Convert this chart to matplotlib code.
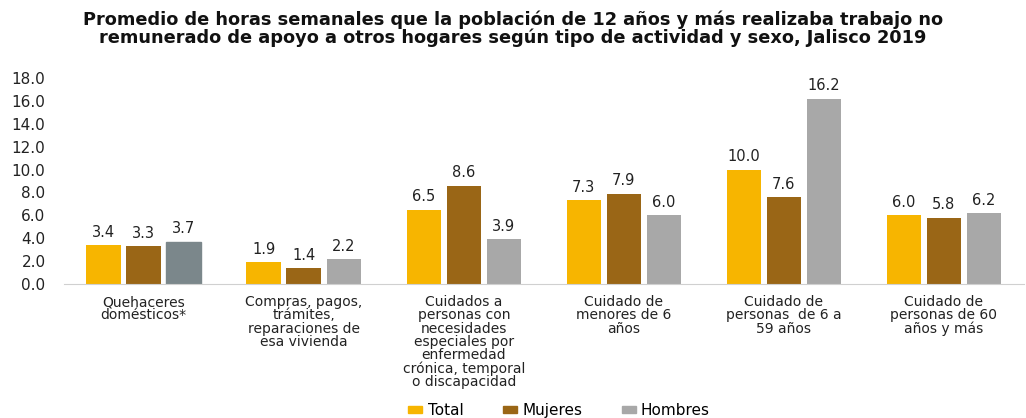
#Average weekly hours of unpaid support work for other households, Jalisco 2019

import numpy as np
import matplotlib.pyplot as plt
from matplotlib.patches import Patch

plt.rcParams['font.family'] = ['DejaVu Sans']

categorias = ['Quehaceres\ndomésticos*',
              'Compras, pagos,\ntrámites,\nreparaciones de\nesa vivienda',
              'Cuidados a\npersonas con\nnecesidades\nespeciales por\nenfermedad\ncrónica, temporal\no discapacidad',
              'Cuidado de\nmenores de 6\naños',
              'Cuidado de\npersonas  de 6 a\n59 años',
              'Cuidado de\npersonas de 60\naños y más']
total = [3.4, 1.9, 6.5, 7.3, 10.0, 6.0]
mujeres = [3.3, 1.4, 8.6, 7.9, 7.6, 5.8]
hombres = [3.7, 2.2, 3.9, 6.0, 16.2, 6.2]
yticks = [0, 2, 4, 6, 8, 10, 12, 14, 16, 18]

c_total, c_muj, c_hom = '#F7B500', '#9A6616', '#A8A8A8'

fig = plt.figure(figsize=(10.26, 4.18), dpi=100)
ax = fig.add_axes([0.062, 0.3206, 0.936, 0.4928])

x = np.arange(len(categorias))
w = 0.215
off = 0.25
b1 = ax.bar(x - off, total, w, color=c_total)
b2 = ax.bar(x, mujeres, w, color=c_muj)
b3 = ax.bar(x + off, hombres, w, color=c_hom)
b3[0].set_color('#7B878B')

for bars in (b1, b2, b3):
    for b in bars:
        ax.text(b.get_x() + b.get_width() / 2, b.get_height() + 0.45,
                f'{b.get_height():.1f}', ha='center', va='bottom',
                fontsize=10.5, color='#222222')

ax.set_ylim(0, 18)
ax.set_xlim(-0.5, len(categorias) - 0.5)
ax.set_yticks(yticks)
ax.set_yticklabels([f'{v:.1f}' for v in yticks], fontsize=11, color='#222222')
ax.set_xticks(x)
ax.set_xticklabels(categorias, fontsize=10, linespacing=0.93, va='top',
                   color='#222222')
ax.tick_params(axis='both', length=0, pad=8)
ax.tick_params(axis='y', pad=13)
for s in ['top', 'right', 'left']:
    ax.spines[s].set_visible(False)
ax.spines['bottom'].set_color('#D0D0D0')

fig.suptitle('Promedio de horas semanales que la población de 12 años y más realizaba trabajo no\n'
             'remunerado de apoyo a otros hogares según tipo de actividad y sexo, Jalisco 2019',
             fontsize=12.8, fontweight='bold', y=0.975, linespacing=1.0, color='#111111')

handles = [Patch(color=c_total), Patch(color=c_muj), Patch(color=c_hom)]
fig.legend(handles=handles, labels=['Total', 'Mujeres', 'Hombres'],
           loc='center', bbox_to_anchor=(0.545, 0.018), ncol=3,
           frameon=False, fontsize=11, handlelength=0.9, handleheight=0.35,
           columnspacing=2.6, handletextpad=0.35, borderpad=0)

fig.savefig('out.png', dpi=100)
